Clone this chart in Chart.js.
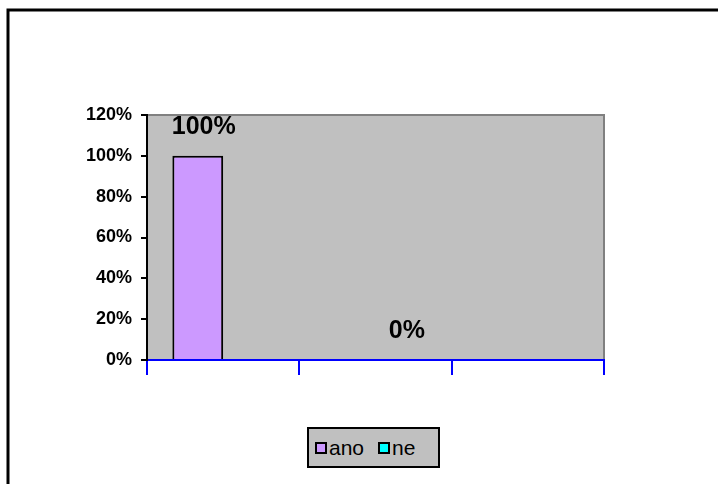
<!DOCTYPE html>
<html>
<head>
<meta charset="utf-8">
<script src="https://cdn.jsdelivr.net/npm/chart.js@4/dist/chart.umd.min.js"></script>
<style>
  html, body { margin: 0; padding: 0; background: #fff; }
  #wrap { position: relative; width: 718px; height: 484px; overflow: hidden; }
  #chart { position: absolute; left: 0; top: 0; }
  #legend {
    position: absolute; left: 307px; top: 427px; width: 129px; height: 37px;
    border: 2px solid #000; background: #c0c0c0;
    display: flex; align-items: center;
    font: 21px Arial, "Liberation Sans", sans-serif; color: #000;
  }
  .item { display: flex; align-items: center; margin-left: 6px; }
  .item + .item { margin-left: 14px; }
  .swatch { width: 8px; height: 8px; border: 2px solid #000; margin-right: 2px; }
</style>
</head>
<body>
<div id="wrap">
  <canvas id="chart" width="718" height="484"></canvas>
  <div id="legend"></div>
</div>
<script>
// Categories and series
const categories = ['', '', ''];
const seriesNames = ['ano', 'ne'];
const anoValues = [100, null, null];
const neValues = [null, 0, null];
const seriesColors = ['#cc99ff', '#00ffff'];
const yMin = 0, yMax = 120, yStep = 20;

const FONT = 'Arial, "Liberation Sans", sans-serif';

// Grey plot background, grey top/right frame, and the outer chart border
const framePlugin = {
  id: 'frame',
  beforeDraw(chart) {
    const { ctx, chartArea: a } = chart;
    ctx.save();
    ctx.fillStyle = '#c0c0c0';
    ctx.fillRect(a.left, a.top, a.right - a.left, a.bottom - a.top);
    ctx.strokeStyle = '#808080';
    ctx.lineWidth = 2;
    ctx.beginPath();
    ctx.moveTo(a.left, a.top);
    ctx.lineTo(a.right, a.top);
    ctx.lineTo(a.right, a.bottom);
    ctx.stroke();
    ctx.strokeStyle = '#000';
    ctx.lineWidth = 3;
    ctx.strokeRect(8, 10, 900, 900);
    ctx.restore();
  }
};

// Value labels above each bar
const valueLabels = {
  id: 'valueLabels',
  afterDatasetsDraw(chart) {
    const { ctx } = chart;
    ctx.save();
    ctx.font = 'bold 25px ' + FONT;
    ctx.fillStyle = '#000';
    ctx.textAlign = 'center';
    ctx.textBaseline = 'middle';
    chart.data.datasets.forEach((ds, i) => {
      const meta = chart.getDatasetMeta(i);
      meta.data.forEach((el, j) => {
        const v = ds.data[j];
        if (v === null || v === undefined) return;
        ctx.fillText(v + '%', el.x + 6, el.y - 29);
      });
    });
    ctx.restore();
  }
};

const chart = new Chart(document.getElementById('chart'), {
  type: 'bar',
  data: {
    labels: categories,
    datasets: [
      { label: seriesNames[0], data: anoValues, backgroundColor: seriesColors[0],
        borderColor: '#000', borderWidth: 2 },
      { label: seriesNames[1], data: neValues, backgroundColor: seriesColors[1],
        borderColor: '#000', borderWidth: 2 }
    ]
  },
  options: {
    responsive: false,
    animation: false,
    devicePixelRatio: 1,
    layout: { padding: { left: 0, top: 115, right: 114, bottom: 0 } },
    datasets: { bar: { barPercentage: 1, categoryPercentage: 0.667 } },
    plugins: { legend: { display: false }, tooltip: { enabled: false } },
    scales: {
      x: {
        z: 1,
        grid: { offset: true, drawOnChartArea: false, drawTicks: true, tickLength: 15,
                color: '#0000ff', lineWidth: 2 },
        border: { color: '#0000ff', width: 2 },
        ticks: { display: false },
        afterFit(s) { s.height = 124; }
      },
      y: {
        min: yMin, max: yMax,
        grid: { drawOnChartArea: false, drawTicks: true, tickLength: 6,
                color: '#000', lineWidth: 2 },
        border: { color: '#000', width: 2 },
        ticks: { stepSize: yStep, callback: v => v + '%', color: '#000', padding: 9,
                 font: { family: FONT, size: 18, weight: 'bold' } },
        afterFit(s) { s.width = 147; }
      }
    }
  },
  plugins: [framePlugin, valueLabels]
});

// Legend built from the series names and colours
const legend = document.getElementById('legend');
seriesNames.forEach((name, i) => {
  const item = document.createElement('div');
  item.className = 'item';
  const sw = document.createElement('span');
  sw.className = 'swatch';
  sw.style.background = seriesColors[i];
  const label = document.createElement('span');
  label.textContent = name;
  item.appendChild(sw);
  item.appendChild(label);
  legend.appendChild(item);
});
</script>
</body>
</html>
